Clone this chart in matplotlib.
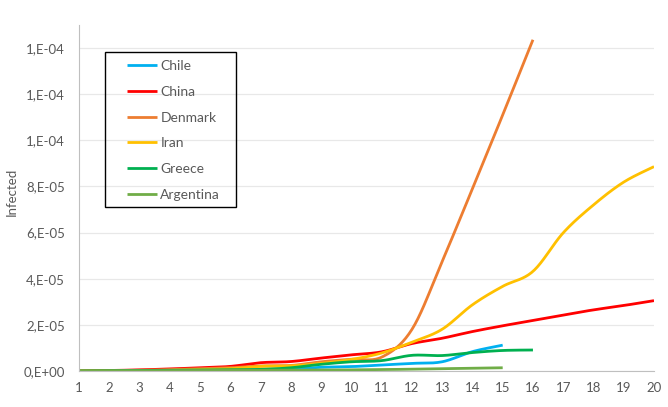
import numpy as np
import matplotlib
matplotlib.use("Agg")
import matplotlib.pyplot as plt
from matplotlib.patches import Rectangle
from matplotlib.ticker import FuncFormatter, MultipleLocator

plt.rcParams["font.family"] = ["Lato", "DejaVu Sans"]

days = list(range(1, 21))

# values, in units of 1e-5
chile = [0, 0.01, 0.02, 0.03, 0.04, 0.05, 0.07, 0.08, 0.16, 0.19, 0.26, 0.33, 0.40, 0.84, 1.12]
china = [0, 0.02, 0.05, 0.09, 0.14, 0.20, 0.36, 0.41, 0.56, 0.70, 0.83, 1.19, 1.42, 1.71, 1.96,
         2.19, 2.43, 2.65, 2.84, 3.05]
denmark = [0, 0.01, 0.03, 0.06, 0.10, 0.14, 0.22, 0.24, 0.40, 0.51, 0.60, 1.80, 4.75, 7.90, 11.1, 14.36]
iran = [0, 0.0, 0.01, 0.03, 0.06, 0.10, 0.20, 0.22, 0.33, 0.50, 0.78, 1.25, 1.81, 2.87, 3.67,
        4.32, 5.99, 7.20, 8.19, 8.86]
greece = [0, 0.01, 0.02, 0.03, 0.04, 0.05, 0.07, 0.14, 0.29, 0.40, 0.45, 0.68, 0.67, 0.80, 0.89, 0.91]
argentina = [0, 0.005, 0.01, 0.015, 0.02, 0.025, 0.03, 0.035, 0.04, 0.05, 0.06, 0.08, 0.10, 0.12, 0.14]

series = [
    ("Chile", chile, "#00B0F0"),
    ("China", china, "#FF0000"),
    ("Denmark", denmark, "#ED7D31"),
    ("Iran", iran, "#FFC000"),
    ("Greece", greece, "#00B050"),
    ("Argentina", argentina, "#70AD47"),
]


def smooth(xs, ys, n=20):
    # Excel-style smoothed line (Catmull-Rom through the points)
    xs = np.asarray(xs, float)
    ys = np.asarray(ys, float)
    px = np.concatenate([[xs[0]], xs, [xs[-1]]])
    py = np.concatenate([[ys[0]], ys, [ys[-1]]])
    out_x, out_y = [], []
    t = np.linspace(0, 1, n, endpoint=False)
    for i in range(1, len(px) - 2):
        p0x, p1x, p2x, p3x = px[i - 1], px[i], px[i + 1], px[i + 2]
        p0y, p1y, p2y, p3y = py[i - 1], py[i], py[i + 1], py[i + 2]
        c1x, c1y = p1x + (p2x - p0x) / 6, p1y + (p2y - p0y) / 6
        c2x, c2y = p2x - (p3x - p1x) / 6, p2y - (p3y - p1y) / 6
        b0, b1, b2, b3 = (1 - t) ** 3, 3 * t * (1 - t) ** 2, 3 * t ** 2 * (1 - t), t ** 3
        out_x.extend(b0 * p1x + b1 * c1x + b2 * c2x + b3 * p2x)
        out_y.extend(b0 * p1y + b1 * c1y + b2 * c2y + b3 * p2y)
    out_x.append(xs[-1])
    out_y.append(ys[-1])
    return np.array(out_x), np.array(out_y)


W, H = 668, 407
fig = plt.figure(figsize=(W / 100, H / 100), dpi=100)
ax = fig.add_axes([79 / W, 1 - 371 / H, 575 / W, 346 / H])

for name, vals, col in series:
    sx, sy = smooth(days[:len(vals)], np.array(vals) * 1e-5)
    ax.plot(sx, sy, color=col, lw=2.0, label=name, solid_capstyle="butt")

ax.set_xlim(1, 20)
ax.set_ylim(0, 1.5e-4)
ax.set_xticks(days)
ax.yaxis.set_major_locator(MultipleLocator(2e-5))
ax.yaxis.set_major_formatter(FuncFormatter(lambda v, p: f"{v:.0E}".replace("E", ",E")))
ax.grid(axis="y", color="#e8e8e8", lw=0.9)
ax.set_axisbelow(True)
for s in ["top", "right"]:
    ax.spines[s].set_visible(False)
ax.spines["left"].set_color("#bfbfbf")
ax.spines["bottom"].set_color("#bfbfbf")
ax.tick_params(length=0, colors="#595959", labelsize=9.5, pad=8)
ax.tick_params(axis="y", pad=10)
ax.set_ylabel("Infected", color="#595959", fontsize=9.5, va="center")
ax.yaxis.set_label_coords((12 - 79) / 575, (371 - 192) / 346)

# legend box drawn by hand, entries placed inside it
fig.patches.append(Rectangle((105 / W, 1 - 207 / H), 131 / W, 155 / H, transform=fig.transFigure,
                             fill=False, edgecolor="black", lw=1.0))
leg = fig.legend(*ax.get_legend_handles_labels(), loc="upper left",
                 bbox_to_anchor=(127 / W, 1 - 60 / H), fontsize=10, frameon=False,
                 handlelength=2.15, handletextpad=0.25, labelspacing=0.99,
                 borderpad=0, borderaxespad=0)
for t in leg.get_texts():
    t.set_color("#595959")

fig.savefig("out.png", dpi=100)
